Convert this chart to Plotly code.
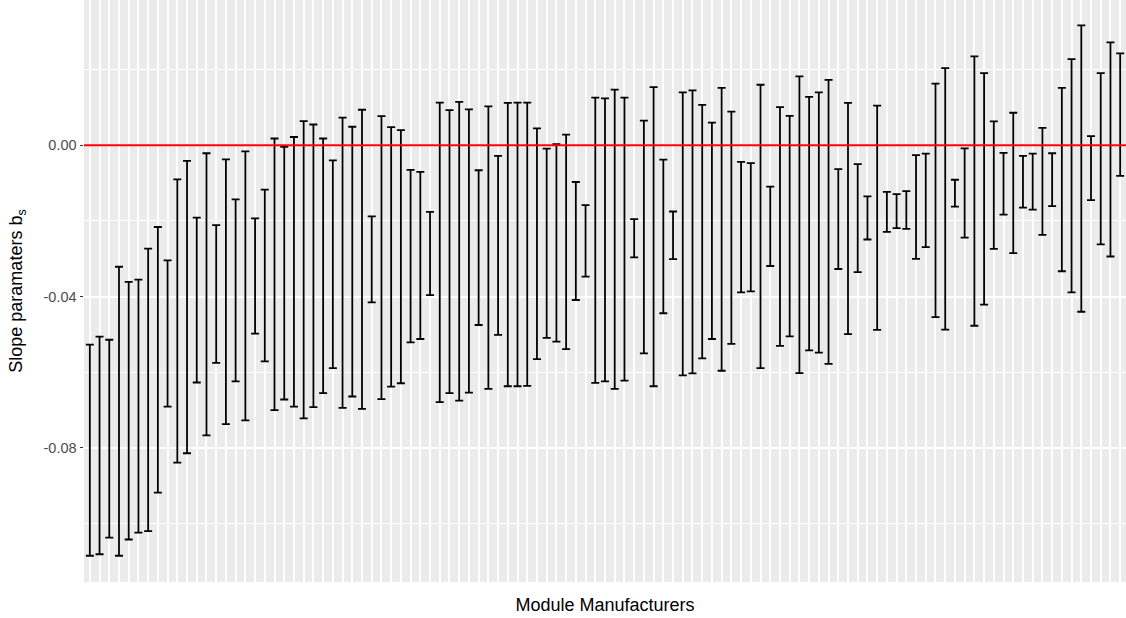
import plotly.graph_objects as go

manufacturers = [f"M{i:03d}" for i in range(1, 108)]

upper = [
    -0.0527, -0.0506, -0.0514, -0.0321, -0.0361, -0.0355, -0.0273, -0.0216, -0.0304, -0.0090,
    -0.0041, -0.0191, -0.0021, -0.0211, -0.0037, -0.0143, -0.0016, -0.0193, -0.0117, 0.0018,
    -0.0004, 0.0022, 0.0064, 0.0055, 0.0018, -0.0040, 0.0073, 0.0049, 0.0094, -0.0188,
    0.0077, 0.0048, 0.0040, -0.0065, -0.0070, -0.0176, 0.0113, 0.0093, 0.0115, 0.0095,
    -0.0066, 0.0103, -0.0028, 0.0112, 0.0113, 0.0113, 0.0045, -0.0009, 0.0003, 0.0028,
    -0.0097, -0.0158, 0.0126, 0.0124, 0.0147, 0.0126, -0.0195, 0.0065, 0.0154, -0.0038,
    -0.0175, 0.0140, 0.0145, 0.0107, 0.0060, 0.0152, 0.0089, -0.0044, -0.0047, 0.0160,
    -0.0109, 0.0101, 0.0078, 0.0182, 0.0128, 0.0140, 0.0173, -0.0063, 0.0112, -0.0050,
    -0.0135, 0.0105, -0.0123, -0.0129, -0.0121, -0.0026, -0.0022, 0.0163, 0.0204, -0.0091,
    -0.0008, 0.0235, 0.0191, 0.0063, -0.0020, 0.0086, -0.0028, -0.0022, 0.0046, -0.0021,
    0.0152, 0.0228, 0.0317, 0.0024, 0.0191, 0.0272, 0.0243,
]

lower = [
    -0.1085, -0.1081, -0.1037, -0.1085, -0.1042, -0.1024, -0.1020, -0.0918, -0.0691, -0.0839,
    -0.0814, -0.0627, -0.0767, -0.0575, -0.0737, -0.0624, -0.0727, -0.0498, -0.0571, -0.0700,
    -0.0672, -0.0691, -0.0722, -0.0692, -0.0655, -0.0589, -0.0694, -0.0664, -0.0697, -0.0415,
    -0.0671, -0.0638, -0.0629, -0.0521, -0.0512, -0.0396, -0.0679, -0.0655, -0.0675, -0.0654,
    -0.0475, -0.0644, -0.0501, -0.0637, -0.0637, -0.0636, -0.0565, -0.0509, -0.0519, -0.0539,
    -0.0409, -0.0347, -0.0628, -0.0624, -0.0644, -0.0622, -0.0296, -0.0550, -0.0637, -0.0444,
    -0.0301, -0.0608, -0.0603, -0.0563, -0.0512, -0.0596, -0.0525, -0.0389, -0.0386, -0.0589,
    -0.0319, -0.0530, -0.0505, -0.0602, -0.0542, -0.0548, -0.0578, -0.0327, -0.0499, -0.0335,
    -0.0249, -0.0488, -0.0229, -0.0219, -0.0221, -0.0300, -0.0269, -0.0454, -0.0487, -0.0162,
    -0.0244, -0.0477, -0.0421, -0.0274, -0.0183, -0.0285, -0.0165, -0.0170, -0.0237, -0.0161,
    -0.0333, -0.0389, -0.0440, -0.0145, -0.0262, -0.0294, -0.0081,
]

y_tick_vals = [0.0, -0.04, -0.08]
y_tick_text = ["0.00", "-0.04", "-0.08"]
reference_value = 0.0

mid = [(u + l) / 2 for u, l in zip(upper, lower)]
err_plus = [u - m for u, m in zip(upper, mid)]
err_minus = [m - l for m, l in zip(mid, lower)]

fig = go.Figure()
fig.add_trace(go.Scatter(
    x=manufacturers,
    y=mid,
    mode="markers",
    marker=dict(size=1, color="rgba(0,0,0,0)"),
    error_y=dict(
        type="data",
        symmetric=False,
        array=err_plus,
        arrayminus=err_minus,
        color="black",
        thickness=1.8,
        width=4,
    ),
    showlegend=False,
    hoverinfo="skip",
))

fig.add_hline(y=reference_value, line=dict(color="#FF0000", width=2), layer="above")

font_family = "Liberation Sans, Arial, Helvetica, sans-serif"

fig.update_layout(
    width=1126,
    height=618,
    margin=dict(l=84, r=0, t=0, b=36),
    paper_bgcolor="white",
    plot_bgcolor="#EBEBEB",
    font=dict(family=font_family),
    xaxis=dict(
        type="category",
        categoryorder="array",
        categoryarray=manufacturers,
        tickmode="array",
        tickvals=manufacturers,
        showticklabels=False,
        ticks="",
        showgrid=True,
        gridcolor="white",
        gridwidth=1.6,
        zeroline=False,
        showline=False,
        range=[-0.6, len(manufacturers) - 0.4],
        title=dict(text="Module Manufacturers", font=dict(size=18, color="black"), standoff=16),
        automargin=False,
    ),
    yaxis=dict(
        range=[-0.11544, 0.03841],
        tickmode="array",
        tickvals=y_tick_vals,
        ticktext=y_tick_text,
        ticks="outside",
        ticklen=3.5,
        tickwidth=1.1,
        tickcolor="#333333",
        tickfont=dict(size=14.5, color="#4D4D4D"),
        showgrid=True,
        gridcolor="white",
        gridwidth=1.6,
        minor=dict(dtick=0.02, tick0=0, showgrid=True, gridcolor="white", gridwidth=0.8, ticks=""),
        zeroline=False,
        showline=False,
        title=dict(text="Slope paramaters b<sub>s</sub>", font=dict(size=18, color="black"), standoff=16),
        automargin=False,
    ),
)

fig.write_html(
    "out.html",
    config={"displayModeBar": False},
    post_script="document.body.style.margin='0';document.body.style.overflow='hidden';",
)
